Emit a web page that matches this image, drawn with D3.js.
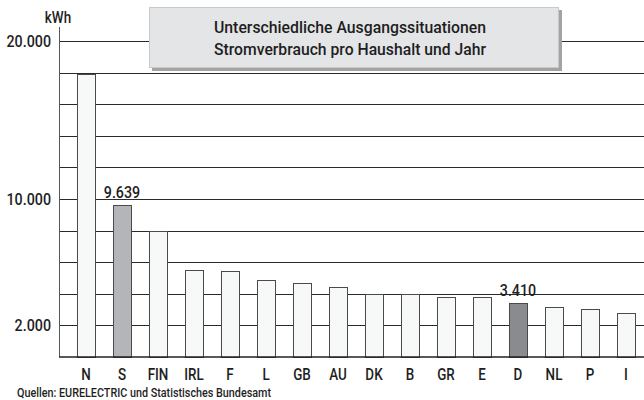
<!DOCTYPE html>
<html>
<head>
<meta charset="utf-8">
<script src="https://cdn.jsdelivr.net/npm/d3@7"></script>
<style>
  body { margin: 0; background: #fff; }
  text { font-family: Roboto, "Liberation Sans", sans-serif; font-weight: 500; fill: #1e1e1e; }
</style>
</head>
<body>
<div id="chart"></div>
<script>
const width = 644, height = 400;

// Stromverbrauch pro Haushalt und Jahr (kWh)
const laender = ['N', 'S', 'FIN', 'IRL', 'F', 'L', 'GB', 'AU', 'DK', 'B', 'GR', 'E', 'D', 'NL', 'P', 'I'];
const verbrauch = [17900, 9639, 8000, 5500, 5440, 4890, 4700, 4450, 4000, 4000, 3820, 3800, 3410, 3180, 3040, 2800];
const hervorgehoben = { S: '#b4b5b9', D: '#8a8b8f' };
const beschriftet = { S: '9.639', D: '3.410' };
const gitter = d3.range(2000, 20001, 2000);
const yTicks = [2000, 10000, 20000];
const titel = ['Unterschiedliche Ausgangssituationen', 'Stromverbrauch pro Haushalt und Jahr'];
const quelle = 'Quellen: EURELECTRIC und Statistisches Bundesamt';

const y = d3.scaleLinear().domain([0, 20000]).range([357, 41]);
const x = d3.scaleBand().domain(laender).range([68, 644]).paddingInner(0.5).paddingOuter(0.25);
const fmt = d3.formatLocale({ decimal: ',', thousands: '.', grouping: [3], currency: ['', ''] }).format(',');

// schmale Schrift nachbilden
const schmal = 0.84;
function setzen(sel, fx, fy) {
  return sel.attr('transform', (d, i) => 'translate(' + fx(d, i) + ',' + fy(d, i) + ') scale(' + schmal + ',1)');
}

const svg = d3.select('#chart').append('svg')
  .attr('width', width)
  .attr('height', height);

// Gitterlinien
svg.append('g').selectAll('line')
  .data(gitter)
  .enter().append('line')
  .attr('x1', 59).attr('x2', width)
  .attr('y1', d => Math.round(y(d)) + 0.5)
  .attr('y2', d => Math.round(y(d)) + 0.5)
  .attr('stroke', '#2a2a2a')
  .attr('stroke-width', 1);

// Titelbox
svg.append('rect')
  .attr('x', 152).attr('y', 10).attr('width', 410).attr('height', 61)
  .attr('fill', '#a3a3a3');
svg.append('rect')
  .attr('x', 149.5).attr('y', 7.5).attr('width', 409).attr('height', 60)
  .attr('fill', '#e4e5e7').attr('stroke', '#c8c9cb');
svg.append('g').selectAll('text')
  .data(titel)
  .enter().append('text')
  .attr('x', 350)
  .attr('y', (d, i) => 33 + i * 22)
  .attr('text-anchor', 'middle')
  .attr('textLength', 272)
  .attr('lengthAdjust', 'spacingAndGlyphs')
  .style('font-size', '17px')
  .text(d => d);

// Balken
svg.append('g').selectAll('rect')
  .data(laender)
  .enter().append('rect')
  .attr('x', d => Math.round(x(d)) + 0.5)
  .attr('y', (d, i) => Math.round(y(verbrauch[i])) + 0.5)
  .attr('width', x.bandwidth())
  .attr('height', (d, i) => Math.round(y(0)) - Math.round(y(verbrauch[i])))
  .attr('fill', d => hervorgehoben[d] || '#f7f8f8')
  .attr('stroke', '#4a4a4a')
  .attr('stroke-width', 1);

// Wertbeschriftungen
svg.append('g').selectAll('text')
  .data(laender.filter(d => beschriftet[d]))
  .enter().append('text')
  .call(setzen, d => x(d) + x.bandwidth() / 2, d => y(verbrauch[laender.indexOf(d)]) - 7)
  .attr('text-anchor', 'middle')
  .style('font-size', '17px')
  .text(d => beschriftet[d]);

// Achsen
svg.append('line')
  .attr('x1', 59.5).attr('x2', 59.5).attr('y1', 27).attr('y2', 357)
  .attr('stroke', '#555').attr('stroke-width', 1);
svg.append('line')
  .attr('x1', 59).attr('x2', width).attr('y1', 357).attr('y2', 357)
  .attr('stroke', '#222').attr('stroke-width', 1.5);

svg.append('g').selectAll('text')
  .data(yTicks)
  .enter().append('text')
  .call(setzen, () => 51, d => y(d) + 6)
  .attr('text-anchor', 'end')
  .style('font-size', '17px')
  .text(d => fmt(d));

svg.append('text')
  .datum('kWh')
  .call(setzen, () => 58, () => 23)
  .attr('text-anchor', 'middle')
  .style('font-size', '16px')
  .text(d => d);

svg.append('g').selectAll('text')
  .data(laender)
  .enter().append('text')
  .call(setzen, d => x(d) + x.bandwidth() / 2, () => 380)
  .attr('text-anchor', 'middle')
  .style('font-size', '16px')
  .text(d => d);

svg.append('text')
  .attr('x', 17).attr('y', 397)
  .attr('textLength', 254)
  .attr('lengthAdjust', 'spacingAndGlyphs')
  .style('font-size', '12px')
  .text(quelle);
</script>
</body>
</html>
